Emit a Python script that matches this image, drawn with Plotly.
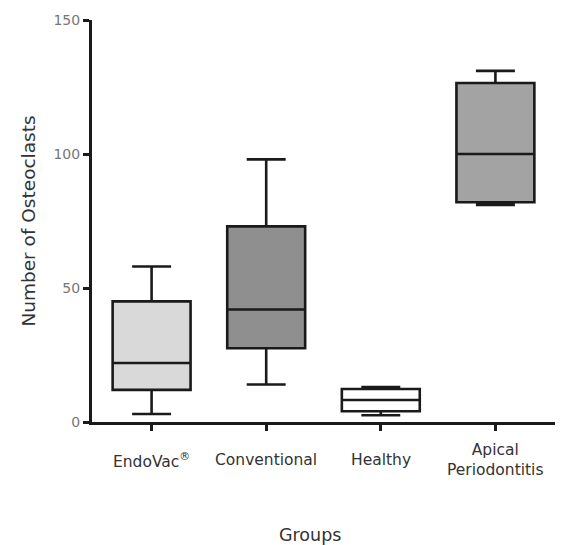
import plotly.graph_objects as go

categories = ["EndoVac", "Conventional", "Healthy", "Apical Periodontitis"]
tick_labels = ["EndoVac<sup>®</sup>", "Conventional", "Healthy", "Apical<br>Periodontitis"]
lower_whisker = [3, 14, 2.5, 81]
q1_values = [12, 27.5, 4, 82]
median_values = [22, 42, 8.2, 100]
q3_values = [45, 73, 12.3, 126.5]
upper_whisker = [58, 98, 13, 131]
y_ticks = [0, 50, 100, 150]

fill_colors = ["#d9d9d9", "#8f8f8f", "#ffffff", "#a3a3a3"]

fig = go.Figure()
for i, cat in enumerate(categories):
    fig.add_trace(go.Box(
        x=[i],
        q1=[q1_values[i]],
        median=[median_values[i]],
        q3=[q3_values[i]],
        lowerfence=[lower_whisker[i]],
        upperfence=[upper_whisker[i]],
        fillcolor=fill_colors[i],
        line=dict(color="#1a1a1a", width=2.6),
        width=0.68,
        whiskerwidth=0.5,
        boxpoints=False,
        name=cat,
        showlegend=False,
        hoverinfo="y",
    ))

for i, lab in enumerate(tick_labels):
    fig.add_annotation(
        x=i, y=-0.095, xref="x", yref="paper",
        text=lab, showarrow=False, yanchor="middle", xanchor="center",
        font=dict(family="DejaVu Sans", size=15.5, color="#333333"),
    )

fig.add_annotation(
    x=0.47, y=-0.281, xref="paper", yref="paper",
    text="Groups", showarrow=False, yanchor="middle", xanchor="center",
    font=dict(family="DejaVu Sans", size=17.5, color="#333333"),
)

fig.update_layout(
    width=561, height=537,
    margin=dict(l=84, r=14, t=12, b=123, autoexpand=False),
    paper_bgcolor="white", plot_bgcolor="white",
    boxmode="overlay",
    font=dict(family="DejaVu Sans", color="#333333"),
)
fig.update_xaxes(
    range=[-0.52, 3.52],
    tickvals=list(range(len(categories))),
    showticklabels=False,
    ticks="outside", ticklen=6, tickwidth=2.5, tickcolor="#1a1a1a",
    showline=True, linecolor="#1a1a1a", linewidth=3,
    showgrid=False, zeroline=False, automargin=False,
)
fig.update_yaxes(
    range=[0, 150],
    tickvals=y_ticks,
    ticks="outside", ticklen=6, tickwidth=2.5, tickcolor="#1a1a1a",
    tickfont=dict(family="DejaVu Sans", size=14, color="#777777"),
    showline=True, linecolor="#1a1a1a", linewidth=3,
    showgrid=False, zeroline=False, automargin=False,
    title=dict(text="Number of Osteoclasts", standoff=13,
               font=dict(family="DejaVu Sans", size=18.5, color="#333333")),
)

fig.write_html("out.html")
